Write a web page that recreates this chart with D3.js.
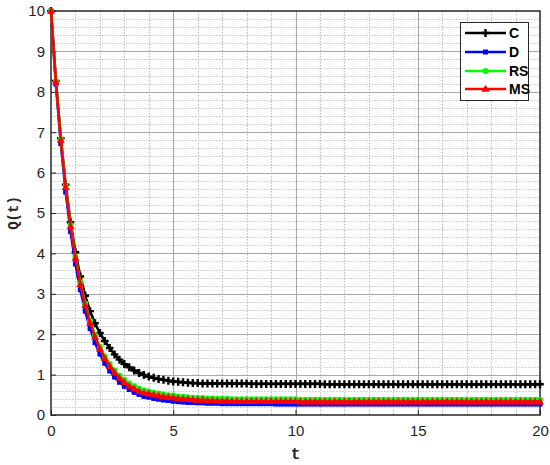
<!DOCTYPE html>
<html>
<head>
<meta charset="utf-8">
<script src="https://cdn.jsdelivr.net/npm/d3@7"></script>
<style>
  html, body { margin: 0; padding: 0; background: #fff; }
  svg { display: block; }
</style>
</head>
<body>
<svg id="chart" width="550" height="465"></svg>
<script>
// ---------------- DATA ----------------
const tStep = 0.2;
const xTicks = [0, 5, 10, 15, 20];
const yTicks = [0, 1, 2, 3, 4, 5, 6, 7, 8, 9, 10];
const seriesNames = ["C", "D", "RS", "MS"];
const seriesColors = ["#000000", "#0000ff", "#00ff00", "#ff0000"];

const seriesC = [10.00,8.27,6.85,5.70,4.77,4.03,3.43,2.95,2.57,2.27,
2.03,1.83,1.66,1.50,1.37,1.26,1.18,1.10,1.04,0.99,
0.95,0.92,0.89,0.87,0.85,0.83,0.82,0.81,0.80,0.79,
0.79,0.78,0.78,0.78,0.78,0.78,0.78,0.78,0.78,0.78,
0.78,0.77,0.77,0.77,0.77,0.77,0.77,0.77,0.77,0.77,
0.77,0.77,0.77,0.77,0.77,0.77,0.76,0.76,0.76,0.76,
0.76,0.76,0.76,0.76,0.76,0.76,0.76,0.76,0.76,0.76,
0.76,0.76,0.76,0.76,0.76,0.76,0.76,0.76,0.76,0.76,
0.76,0.76,0.76,0.76,0.76,0.76,0.76,0.76,0.76,0.76,
0.76,0.76,0.76,0.76,0.76,0.76,0.76,0.76,0.76,0.76,
0.76];

const seriesD = [10.00,8.19,6.72,5.52,4.54,3.74,3.10,2.57,2.14,1.79,
1.51,1.28,1.09,0.94,0.81,0.71,0.63,0.56,0.51,0.46,
0.44,0.41,0.39,0.37,0.36,0.34,0.33,0.32,0.31,0.31,
0.30,0.30,0.29,0.29,0.29,0.28,0.28,0.28,0.28,0.28,
0.28,0.28,0.28,0.28,0.28,0.28,0.27,0.27,0.27,0.27,
0.27,0.27,0.27,0.27,0.27,0.27,0.27,0.27,0.27,0.27,
0.27,0.27,0.27,0.27,0.27,0.27,0.27,0.27,0.27,0.27,
0.27,0.27,0.27,0.27,0.27,0.27,0.27,0.27,0.27,0.27,
0.27,0.27,0.27,0.27,0.27,0.27,0.27,0.27,0.27,0.27,
0.27,0.27,0.27,0.27,0.27,0.27,0.27,0.27,0.27,0.27,
0.27];

const seriesRS = [10.00,8.26,6.83,5.67,4.71,3.93,3.29,2.76,2.33,1.98,
1.69,1.45,1.26,1.10,0.97,0.87,0.78,0.71,0.65,0.61,
0.58,0.55,0.53,0.51,0.49,0.48,0.46,0.45,0.44,0.43,
0.42,0.42,0.41,0.41,0.40,0.40,0.40,0.39,0.39,0.39,
0.39,0.39,0.39,0.39,0.39,0.39,0.39,0.39,0.39,0.39,
0.39,0.38,0.38,0.38,0.38,0.38,0.38,0.38,0.38,0.38,
0.38,0.38,0.38,0.38,0.38,0.38,0.38,0.38,0.38,0.38,
0.38,0.38,0.38,0.38,0.38,0.38,0.38,0.38,0.38,0.38,
0.38,0.38,0.38,0.38,0.38,0.38,0.38,0.38,0.38,0.38,
0.38,0.38,0.38,0.38,0.38,0.38,0.38,0.38,0.38,0.38,
0.38];

const seriesMS = [10.00,8.25,6.81,5.64,4.67,3.89,3.24,2.71,2.28,1.93,
1.64,1.40,1.21,1.05,0.92,0.81,0.72,0.65,0.59,0.55,
0.53,0.50,0.48,0.46,0.44,0.43,0.41,0.40,0.39,0.38,
0.37,0.37,0.36,0.36,0.35,0.35,0.35,0.34,0.34,0.34,
0.34,0.34,0.34,0.34,0.34,0.34,0.34,0.34,0.34,0.34,
0.34,0.33,0.33,0.33,0.33,0.33,0.33,0.33,0.33,0.33,
0.33,0.33,0.33,0.33,0.33,0.33,0.33,0.33,0.33,0.33,
0.33,0.33,0.33,0.33,0.33,0.33,0.33,0.33,0.33,0.33,
0.33,0.33,0.33,0.33,0.33,0.33,0.33,0.33,0.33,0.33,
0.33,0.33,0.33,0.33,0.33,0.33,0.33,0.33,0.33,0.33,
0.33];

const allSeries = [seriesC, seriesD, seriesRS, seriesMS];
const markerTypes = ["plus", "square", "circle", "triangle"];

// ---------------- LAYOUT ----------------
const L = 51, R = 540, T = 11, B = 415;
const svg = d3.select("#chart");
const x = d3.scaleLinear().domain([0, 20]).range([L, R]);
const y = d3.scaleLinear().domain([0, 10]).range([B, T]);

svg.append("rect").attr("x", 0).attr("y", 0).attr("width", 550).attr("height", 465).attr("fill", "#fff");

// minor grid
const gGrid = svg.append("g");
const minorX = d3.range(1, 20).filter(v => v % 5 !== 0);
gGrid.selectAll(".mx").data(minorX).enter().append("line")
  .attr("x1", d => Math.round(x(d)) + 0.5).attr("x2", d => Math.round(x(d)) + 0.5)
  .attr("y1", T).attr("y2", B)
  .attr("stroke", "#bdbdbd").attr("stroke-width", 1).attr("stroke-dasharray", "1.5,1.5");
const minorY = d3.range(0, 50).map(i => i * 0.2).filter((v, i) => i % 5 !== 0);
gGrid.selectAll(".my").data(minorY).enter().append("line")
  .attr("x1", L).attr("x2", R)
  .attr("y1", d => Math.round(y(d)) + 0.5).attr("y2", d => Math.round(y(d)) + 0.5)
  .attr("stroke", "#c8c8c8").attr("stroke-width", 1).attr("stroke-dasharray", "1.5,1.5");
// major grid
gGrid.selectAll(".Mx").data(xTicks.slice(1, -1)).enter().append("line")
  .attr("x1", d => Math.round(x(d)) + 0.5).attr("x2", d => Math.round(x(d)) + 0.5)
  .attr("y1", T).attr("y2", B)
  .attr("stroke", "#a8a8a8").attr("stroke-width", 1);
gGrid.selectAll(".My").data(yTicks.slice(1, -1)).enter().append("line")
  .attr("x1", L).attr("x2", R)
  .attr("y1", d => Math.round(y(d)) + 0.5).attr("y2", d => Math.round(y(d)) + 0.5)
  .attr("stroke", "#a8a8a8").attr("stroke-width", 1);

// axes
const fontTick = "Liberation Sans, Arial, sans-serif";
const xAxis = d3.axisBottom(x).tickValues(xTicks).tickSize(-5).tickPadding(10).tickFormat(d3.format("d"));
const yAxis = d3.axisLeft(y).tickValues(yTicks).tickSize(-5).tickPadding(6).tickFormat(d3.format("d"));
const gx = svg.append("g").attr("transform", `translate(0,${B})`).call(xAxis);
const gy = svg.append("g").attr("transform", `translate(${L},0)`).call(yAxis);
[gx, gy].forEach(g => {
  g.select(".domain").remove();
  g.selectAll(".tick line").attr("stroke", "#262626").attr("stroke-width", 1);
  g.selectAll(".tick text").attr("fill", "#262626").style("font-family", fontTick).style("font-size", "15px");
});

// box
svg.append("rect").attr("x", L).attr("y", T).attr("width", R - L).attr("height", B - T)
  .attr("fill", "none").attr("stroke", "#262626").attr("stroke-width", 1.5);

// series
const line = d3.line().x((d, i) => x(i * tStep)).y(d => y(d));

function drawMarker(g, type, color, cx, cy) {
  if (type === "plus") {
    g.append("path").attr("d", `M${cx - 3.8},${cy}H${cx + 3.8}M${cx},${cy - 4}V${cy + 4}`)
      .attr("stroke", color).attr("stroke-width", 2.4).attr("fill", "none");
  } else if (type === "square") {
    g.append("rect").attr("x", cx - 2.5).attr("y", cy - 2.5).attr("width", 5).attr("height", 5)
      .attr("fill", color);
  } else if (type === "circle") {
    g.append("circle").attr("cx", cx).attr("cy", cy).attr("r", 3).attr("fill", color);
  } else if (type === "triangle") {
    g.append("path").attr("d", `M${cx},${cy - 4.2}L${cx + 4},${cy + 2.8}L${cx - 4},${cy + 2.8}Z`)
      .attr("fill", color);
  }
}

const gSeries = svg.append("g");
allSeries.forEach((s, k) => {
  const g = gSeries.append("g");
  g.append("path").datum(s).attr("d", line).attr("fill", "none")
    .attr("stroke", seriesColors[k]).attr("stroke-width", 2.6).attr("stroke-linejoin", "round");
  s.forEach((v, i) => drawMarker(g, markerTypes[k], seriesColors[k], x(i * tStep), y(v)));
});

// axis labels
svg.append("text").attr("x", (L + R) / 2).attr("y", 459).attr("text-anchor", "middle")
  .style("font-family", "Liberation Mono, Courier New, monospace").style("font-weight", "bold")
  .style("font-size", "16px").attr("fill", "#262626").text("t");
svg.append("text").attr("transform", `translate(18,${(T + B) / 2}) rotate(-90)`).attr("text-anchor", "middle")
  .style("font-family", "Liberation Mono, Courier New, monospace").style("font-weight", "bold")
  .style("font-size", "14px").attr("fill", "#262626").text("Q(t)");

// legend
const lg = svg.append("g");
lg.append("rect").attr("x", 460.5).attr("y", 22.5).attr("width", 68).attr("height", 78)
  .attr("fill", "#fff").attr("stroke", "#262626").attr("stroke-width", 1);
const legY = [33, 52, 71, 89];
seriesNames.forEach((n, k) => {
  const gy2 = legY[k];
  lg.append("line").attr("x1", 465).attr("x2", 506).attr("y1", gy2).attr("y2", gy2)
    .attr("stroke", seriesColors[k]).attr("stroke-width", 2.6);
  drawMarker(lg, markerTypes[k], seriesColors[k], 485.5, gy2);
  lg.append("text").attr("x", 509).attr("y", gy2 + 5)
    .style("font-family", "Liberation Sans Narrow, Arial Narrow, Liberation Sans, sans-serif")
    .style("font-weight", "bold").style("font-size", "14px").attr("fill", "#000").text(n);
});
</script>
</body>
</html>
